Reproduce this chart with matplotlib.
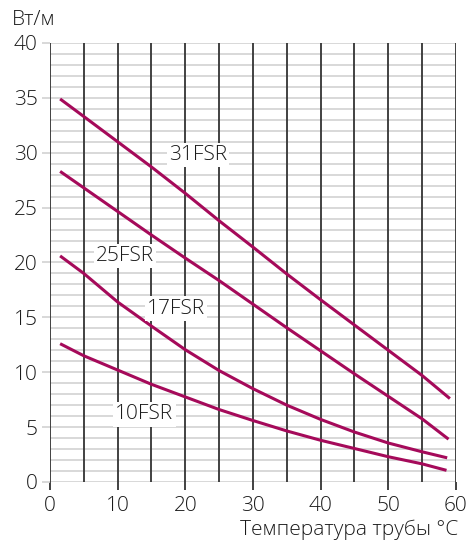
import matplotlib
matplotlib.use("Agg")
import matplotlib.pyplot as plt

plt.rcParams['font.family'] = ['Open Sans', 'DejaVu Sans']
plt.rcParams['font.weight'] = 300

# Data
x_31 = [1.5, 5, 10, 15, 20, 25, 30, 35, 40, 45, 50, 55, 59.1]
y_31 = [34.9, 33.3, 31.0, 28.7, 26.3, 23.8, 21.4, 18.95, 16.6, 14.3, 12.0, 9.7, 7.6]
x_25 = [1.5, 5, 10, 15, 20, 25, 30, 35, 40, 45, 50, 55, 58.9]
y_25 = [28.3, 26.8, 24.65, 22.5, 20.4, 18.35, 16.2, 14.05, 11.95, 9.85, 7.8, 5.75, 3.9]
x_17 = [1.5, 5, 10, 15, 20, 25, 30, 35, 40, 45, 50, 55, 58.7]
y_17 = [20.6, 19.0, 16.4, 14.2, 12.05, 10.15, 8.5, 7.0, 5.7, 4.55, 3.55, 2.75, 2.2]
x_10 = [1.5, 5, 10, 15, 20, 25, 30, 35, 40, 45, 50, 55, 58.6]
y_10 = [12.6, 11.5, 10.2, 8.9, 7.75, 6.6, 5.6, 4.65, 3.8, 3.05, 2.3, 1.65, 1.06]

series_names = ["31FSR", "25FSR", "17FSR", "10FSR"]
label_pos = [(21.9, 29.8), (11.1, 20.6), (18.6, 15.8), (13.95, 6.15)]

x_ticks = [0, 10, 20, 30, 40, 50, 60]
y_ticks = [0, 5, 10, 15, 20, 25, 30, 35, 40]
y_label = "Вт/м"
x_label = "Температура трубы °C"

line_color = "#a50a5a"
text_color = "#1a1a1a"
fs = 15

fig = plt.figure(figsize=(4.67, 5.44), dpi=100)
ax = fig.add_axes([0.107, 0.114, 0.8694, 0.807])
ax.set_xlim(0, 60)
ax.set_ylim(0, 40)

# horizontal light grid every 1 unit
for yv in range(0, 41):
    ax.axhline(yv, color="#d2d2d2", lw=1.2, zorder=1)
# vertical dark lines every 5 units
for xv in range(0, 61, 5):
    ax.axvline(xv, color="#333333", lw=1.3, zorder=2)

for xs, ys in [(x_31, y_31), (x_25, y_25), (x_17, y_17), (x_10, y_10)]:
    ax.plot(xs, ys, color=line_color, lw=2.2, zorder=3, solid_capstyle='butt',
            solid_joinstyle='round')

for name, (lx, ly) in zip(series_names, label_pos):
    ax.text(lx, ly, name, ha='center', va='center', fontsize=fs, color=text_color,
            zorder=4, bbox=dict(facecolor='white', edgecolor='none', pad=1.5))

for s in ax.spines.values():
    s.set_visible(False)

ax.set_xticks(x_ticks)
ax.set_yticks(y_ticks)
ax.tick_params(axis='x', length=6, width=1.3, color="#333333", pad=4, labelsize=fs, labelcolor=text_color)
ax.tick_params(axis='y', length=6, width=1.2, color="#d2d2d2", pad=3, labelsize=fs, labelcolor=text_color)

fig.text(12/467, 1 - 20/544, y_label, ha='left', va='center', fontsize=fs, color=text_color)
fig.text(458/467, 1 - 530/544, x_label, ha='right', va='center', fontsize=fs, color=text_color)

fig.savefig("out.png", dpi=100, facecolor='white')
